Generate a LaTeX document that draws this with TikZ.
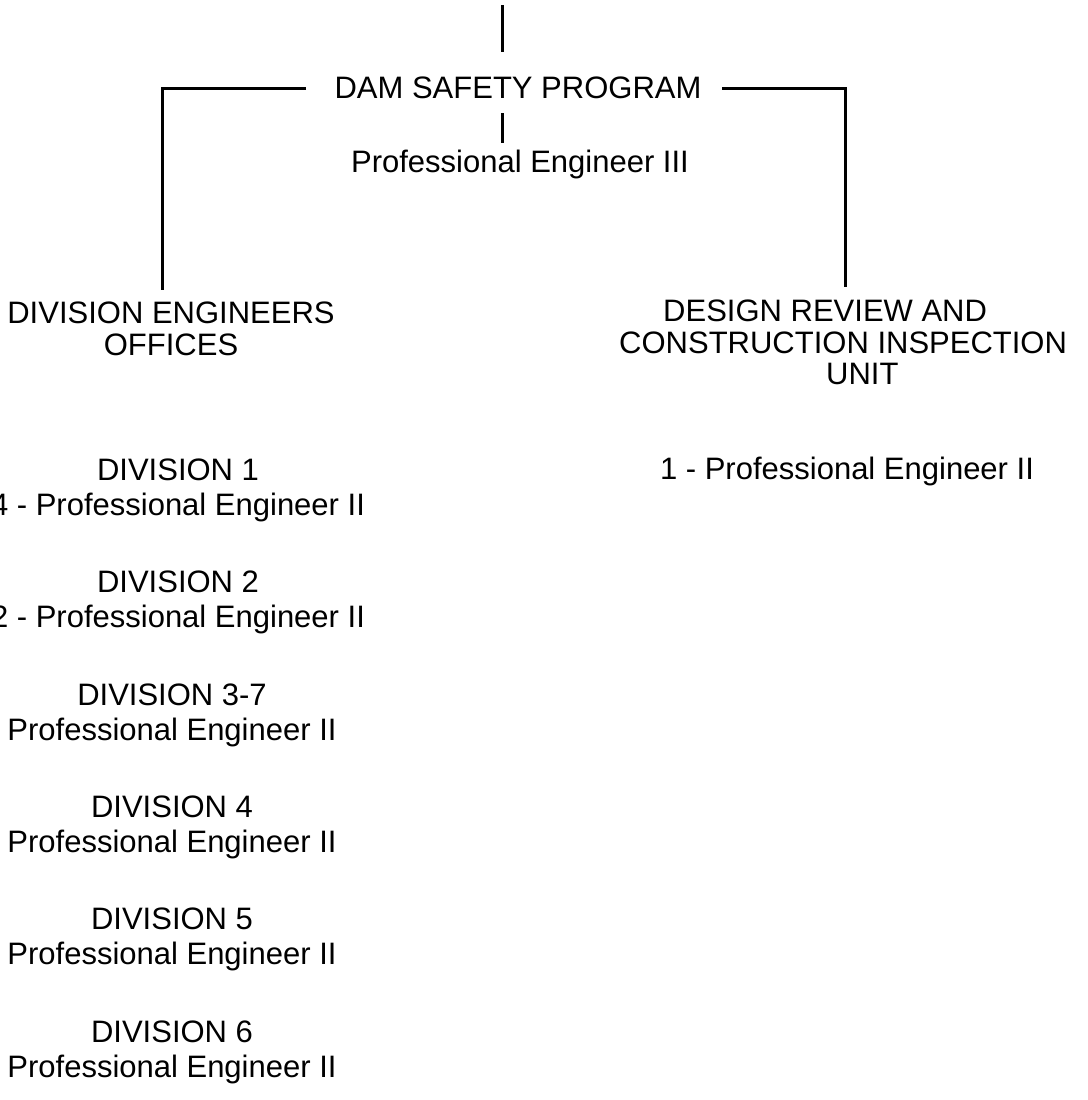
\documentclass[tikz,border=0pt]{standalone}
\usepackage{fontspec}
\setmainfont{Liberation Sans}
\begin{document}
\begin{tikzpicture}[x=1pt,y=-1pt,
  lbl/.style={font=\fontsize{31}{35}\selectfont, inner sep=0pt, align=center, anchor=north},
  hdr/.style={lbl, font=\fontsize{31}{31.5}\selectfont},
  conn/.style={line width=3pt, line cap=butt, line join=miter}]
\useasboundingbox (0,0) rectangle (1087,1100);
\clip (0,0) rectangle (1087,1100);
% titles
\node[lbl] (dam) at (518,77) {DAM SAFETY PROGRAM};
\node[lbl] (pe3) at (520,150) {Professional Engineer III};
\node[hdr] (deo) at (171,302) {DIVISION ENGINEERS\\OFFICES};
\node[hdr, align=left, anchor=north west] (dr) at (619,300)
  {\hspace*{44pt}DESIGN REVIEW AND\\CONSTRUCTION INSPECTION\\\hspace*{207pt}UNIT};
\node[lbl] (dr1) at (847,457) {1 - Professional Engineer II};
% divisions
\node[lbl] (d1) at (178,459) {DIVISION 1\\4 - Professional Engineer II};
\node[lbl] (d2) at (178,571) {DIVISION 2\\2 - Professional Engineer II};
\node[lbl] (d3) at (172,684) {DIVISION 3-7\\Professional Engineer II};
\node[lbl] (d4) at (172,796) {DIVISION 4\\Professional Engineer II};
\node[lbl] (d5) at (172,908) {DIVISION 5\\Professional Engineer II};
\node[lbl] (d6) at (172,1021) {DIVISION 6\\Professional Engineer II};
% connector points
\coordinate (t0) at (502,5);
\coordinate (t1) at (502,52);
\coordinate (s0) at (502,113);
\coordinate (s1) at (502,143);
\coordinate (la) at (306,88);
\coordinate (lb) at (162,290);
\coordinate (ra) at (722,88);
\coordinate (rb) at (845,287);
% connectors
\draw[conn] (t0) -- (t1);
\draw[conn] (s0) -- (s1);
\draw[conn] (la) -| (lb);
\draw[conn] (ra) -| (rb);
\end{tikzpicture}
\end{document}
